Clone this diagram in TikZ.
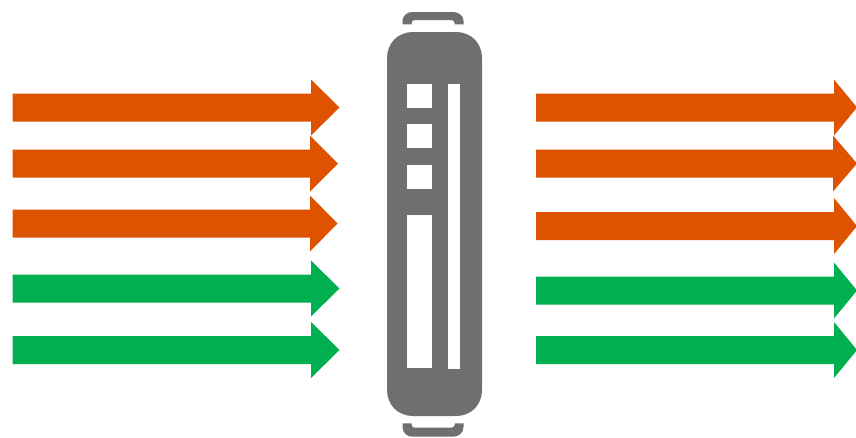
\documentclass[tikz,border=0pt]{standalone}
\definecolor{arrowred}{HTML}{DD5300}
\definecolor{arrowgreen}{HTML}{00B050}
\definecolor{devicegrey}{HTML}{6F6F6F}
\tikzset{
  devicepart/.style={fill=devicegrey,draw=none},
  slotpart/.style={fill=white,draw=none}
}
% #1 colour, #2 x start, #3 x neck, #4 x tip, #5 y tip
\newcommand{\flowarrow}[5]{%
  \fill[#1] (#2,#5-14) -- (#3,#5-14) -- (#3,#5-28) -- (#4,#5) -- (#3,#5+28) -- (#3,#5+14) -- (#2,#5+14) -- cycle;}
\begin{document}
\begin{tikzpicture}[x=1pt,y=-1pt]
\useasboundingbox (0,0) rectangle (856,437);
% left arrows
\flowarrow{arrowred}{12.5}{311}{339.5}{107.5}
\flowarrow{arrowred}{12.5}{310}{338}{163.5}
\flowarrow{arrowred}{12.5}{310}{337.5}{223.5}
\flowarrow{arrowgreen}{12.5}{311}{339.5}{288.5}
\flowarrow{arrowgreen}{12.5}{311}{339.5}{350}
% right arrows
\flowarrow{arrowred}{536}{834}{857}{107.5}
\flowarrow{arrowred}{536}{833}{857}{163.5}
\flowarrow{arrowred}{536}{834}{857}{226}
\flowarrow{arrowgreen}{536}{834}{857}{290.5}
\flowarrow{arrowgreen}{536}{834}{857}{350}
% device body
\fill[devicepart] (387,58) .. controls (387,43) and (398,32) .. (413,32) -- (456,32)
  .. controls (471,32) and (482,43) .. (482,58) -- (482,390)
  .. controls (482,405) and (471,416) .. (456,416) -- (413,416)
  .. controls (398,416) and (387,405) .. (387,390) -- cycle;
% top handle
\fill[devicepart] (402.5,24.3) -- (402.5,21) .. controls (402.5,16) and (407,12) .. (412,12) -- (453,12)
  .. controls (459,12) and (463.5,16) .. (463.5,21) -- (463.5,24.3) -- (455,24.3)
  .. controls (454.5,21.5) and (453.5,20) .. (451.5,20) -- (414,20)
  .. controls (412.5,20) and (412,21.5) .. (411.5,24.3) -- cycle;
% bottom handle
\fill[devicepart] (402.5,423.3) -- (402.5,427) .. controls (402.5,432.5) and (407,436.7) .. (412,436.7) -- (453,436.7)
  .. controls (459,436.7) and (463.5,432.5) .. (463.5,427) -- (463.5,423.3) -- (455,423.3)
  .. controls (454.5,426.5) and (453.5,427.7) .. (451.5,427.7) -- (414,427.7)
  .. controls (412.5,427.7) and (412,426.5) .. (411.5,423.3) -- cycle;
% windows
\fill[slotpart] (407,83.5) rectangle (431.7,107.7);
\fill[slotpart] (407,124) rectangle (431.7,148.2);
\fill[slotpart] (407,165) rectangle (431.7,189.2);
\fill[slotpart] (407,214.5) rectangle (431.7,368);
\fill[slotpart] (448.3,83.5) rectangle (460,369);
\end{tikzpicture}
\end{document}
